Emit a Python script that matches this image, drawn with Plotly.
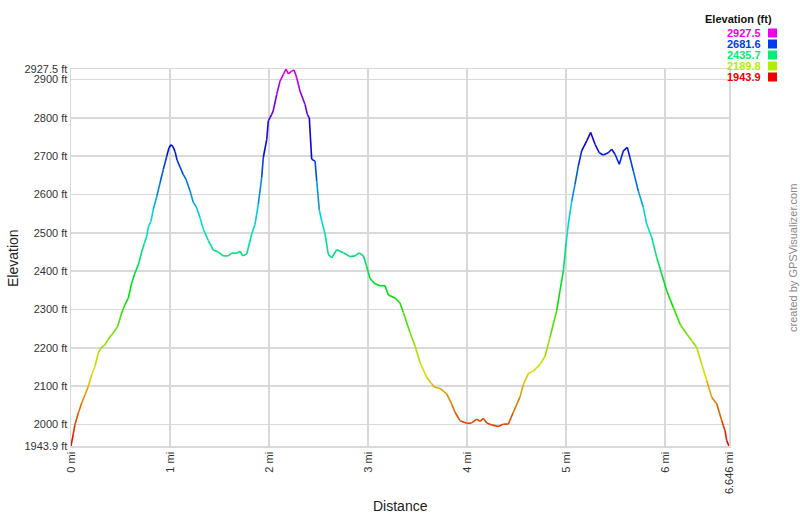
import colorsys
import plotly.graph_objects as go

# ---- data ----
distance_mi = [
    0, 0.023, 0.040, 0.074, 0.108, 0.141, 0.175, 0.209, 0.242, 0.276,
    0.303, 0.343, 0.371, 0.427, 0.472, 0.512, 0.545, 0.579, 0.613, 0.646,
    0.680, 0.714, 0.740, 0.765, 0.781, 0.808, 0.831, 0.866, 0.899, 0.932,
    0.967, 0.990, 1.010, 1.030, 1.051, 1.071, 1.101, 1.134, 1.162, 1.202,
    1.235, 1.270, 1.303, 1.336, 1.387, 1.437, 1.488, 1.538, 1.589, 1.623,
    1.674, 1.707, 1.734, 1.775, 1.825, 1.859, 1.892, 1.926, 1.942, 1.977,
    1.993, 2.027, 2.042, 2.078, 2.111, 2.144, 2.172, 2.195, 2.229, 2.253,
    2.280, 2.313, 2.364, 2.387, 2.407, 2.431, 2.465, 2.482, 2.508, 2.532,
    2.566, 2.599, 2.633, 2.684, 2.751, 2.818, 2.869, 2.912, 2.953, 2.987,
    3.020, 3.071, 3.121, 3.172, 3.205, 3.273, 3.323, 3.357, 3.424, 3.475,
    3.525, 3.593, 3.643, 3.677, 3.727, 3.795, 3.845, 3.879, 3.929, 3.997,
    4.047, 4.098, 4.131, 4.165, 4.199, 4.249, 4.316, 4.367, 4.417, 4.468,
    4.535, 4.569, 4.619, 4.670, 4.737, 4.788, 4.838, 4.906, 4.939, 4.973,
    5.000, 5.023, 5.058, 5.091, 5.124, 5.158, 5.209, 5.249, 5.293, 5.336,
    5.376, 5.427, 5.461, 5.495, 5.538, 5.579, 5.619, 5.646, 5.680, 5.730,
    5.781, 5.815, 5.866, 5.916, 5.967, 6.017, 6.084, 6.152, 6.219, 6.269,
    6.320, 6.370, 6.421, 6.471, 6.522, 6.573, 6.606, 6.623, 6.646,
]
elevation_ft = [
    1943.9, 1975, 2000, 2030, 2056, 2077, 2100, 2130, 2152, 2187,
    2200, 2208, 2221, 2239, 2256, 2291, 2313, 2330, 2369, 2395,
    2417, 2450, 2472, 2491, 2515, 2530, 2561, 2595, 2630, 2665,
    2700, 2722, 2730, 2725, 2712, 2690, 2672, 2652, 2640, 2610,
    2580, 2565, 2540, 2510, 2480, 2455, 2450, 2440, 2440, 2447,
    2447, 2452, 2440, 2445, 2497, 2523, 2575, 2644, 2696, 2744,
    2792, 2809, 2818, 2861, 2896, 2913, 2927.5, 2915, 2922, 2925,
    2905, 2870, 2835, 2809, 2800, 2692, 2687, 2635, 2560, 2531,
    2497, 2444, 2435, 2456, 2448, 2438, 2440, 2448, 2440, 2412,
    2381, 2367, 2362, 2362, 2338, 2330, 2317, 2292, 2240, 2205,
    2162, 2123, 2106, 2097, 2094, 2080, 2053, 2032, 2010, 2003,
    2004, 2014, 2008, 2016, 2004, 1999, 1995, 2001, 2001, 2032,
    2072, 2104, 2133, 2140, 2157, 2178, 2228, 2297, 2349, 2401,
    2471, 2523, 2583, 2627, 2674, 2714, 2740, 2762, 2731, 2709,
    2703, 2709, 2718, 2705, 2679, 2714, 2723, 2696, 2661, 2609,
    2566, 2523, 2488, 2436, 2392, 2349, 2305, 2262, 2236, 2219,
    2201, 2158, 2115, 2071, 2054, 2010, 1984, 1958, 1943.9,
]
x_tick_values = [0, 1, 2, 3, 4, 5, 6, 6.646]
x_tick_labels = ["0 mi", "1 mi", "2 mi", "3 mi", "4 mi", "5 mi", "6 mi", "6.646 mi"]
y_tick_values = [1943.9, 2000, 2100, 2200, 2300, 2400, 2500, 2600, 2700, 2800, 2900, 2927.5]
y_tick_labels = ["1943.9 ft", "2000 ft", "2100 ft", "2200 ft", "2300 ft", "2400 ft",
                 "2500 ft", "2600 ft", "2700 ft", "2800 ft", "2900 ft", "2927.5 ft"]

y_min = min(elevation_ft)
y_max = max(elevation_ft)
legend_values = [2927.5, 2681.6, 2435.7, 2189.8, 1943.9]

FONT = "Liberation Sans, Arial, sans-serif"


def elev_color(e, v=0.93):
    t = (e - y_min) / (y_max - y_min)
    t = max(0.0, min(1.0, t))
    r, g, b = colorsys.hsv_to_rgb(300.0 * t / 360.0, 1.0, v)
    return "rgb(%d,%d,%d)" % (round(r * 255), round(g * 255), round(b * 255))


fig = go.Figure()
for i in range(len(distance_mi) - 1):
    mid = (elevation_ft[i] + elevation_ft[i + 1]) / 2.0
    fig.add_trace(go.Scatter(
        x=[distance_mi[i], distance_mi[i + 1]],
        y=[elevation_ft[i], elevation_ft[i + 1]],
        mode="lines",
        line=dict(color=elev_color(mid, 0.88), width=1.6),
        hoverinfo="skip",
        showlegend=False,
    ))

W, H = 800, 517
L, R, T, B = 71, 71, 69, 71
pw, ph = W - L - R, H - T - B


def px_x(px):
    return (px - L) / pw


def px_y(py):
    return (H - B - py) / ph


grid = "#d9d9d9"
fig.update_layout(
    width=W, height=H,
    margin=dict(l=L, r=R, t=T, b=B),
    paper_bgcolor="white", plot_bgcolor="white",
    font=dict(family=FONT, size=11, color="#333333"),
    showlegend=False,
    xaxis=dict(
        range=[0, distance_mi[-1]], tickmode="array",
        tickvals=x_tick_values, ticktext=x_tick_labels, tickangle=-90,
        showgrid=True, gridcolor=grid, gridwidth=1.5,
        showline=True, linecolor=grid, linewidth=1.5, mirror=True,
        zeroline=False, ticks="", tickfont=dict(size=11, color="#333333"),
        automargin=False,
    ),
    yaxis=dict(
        range=[y_min, y_max], tickmode="array",
        tickvals=y_tick_values, ticktext=y_tick_labels,
        showgrid=True, gridcolor=grid, gridwidth=1.5,
        showline=True, linecolor=grid, linewidth=1.5, mirror=True,
        zeroline=False, ticks="", tickfont=dict(size=11, color="#333333"),
        automargin=False,
    ),
)

ann = []
ann.append(dict(text="Distance", xref="paper", yref="paper", x=0.5, y=px_y(506),
                showarrow=False, xanchor="center", yanchor="middle",
                font=dict(family=FONT, size=14, color="#222222")))
ann.append(dict(text="Elevation", xref="paper", yref="paper", x=px_x(13), y=px_y(258),
                showarrow=False, textangle=-90, xanchor="center", yanchor="middle",
                font=dict(family=FONT, size=14, color="#222222")))
ann.append(dict(text="created by GPSVisualizer.com", xref="paper", yref="paper",
                x=px_x(793), y=px_y(258), showarrow=False, textangle=-90,
                xanchor="center", yanchor="middle",
                font=dict(family=FONT, size=11, color="#888888")))
ann.append(dict(text="<b>Elevation (ft)</b>", xref="paper", yref="paper",
                x=px_x(774), y=px_y(19), showarrow=False, xanchor="right", yanchor="middle",
                font=dict(family=FONT, size=11, color="#111111")))
shapes = []
for k, val in enumerate(legend_values):
    yc = 33 + k * 11
    col = elev_color(val)
    ann.append(dict(text="<b>%.1f</b>" % val, xref="paper", yref="paper",
                    x=px_x(763), y=px_y(yc), showarrow=False, xanchor="right",
                    yanchor="middle", font=dict(family=FONT, size=11, color=col)))
    shapes.append(dict(type="rect", xref="paper", yref="paper",
                       x0=px_x(768), x1=px_x(777), y0=px_y(yc + 4.5), y1=px_y(yc - 4.5),
                       fillcolor=col, line=dict(width=0)))
fig.update_layout(annotations=ann, shapes=shapes)

fig.write_html("out.html", config={"displayModeBar": False, "staticPlot": True},
               post_script="document.body.style.margin='0px';document.body.style.padding='0px';")
